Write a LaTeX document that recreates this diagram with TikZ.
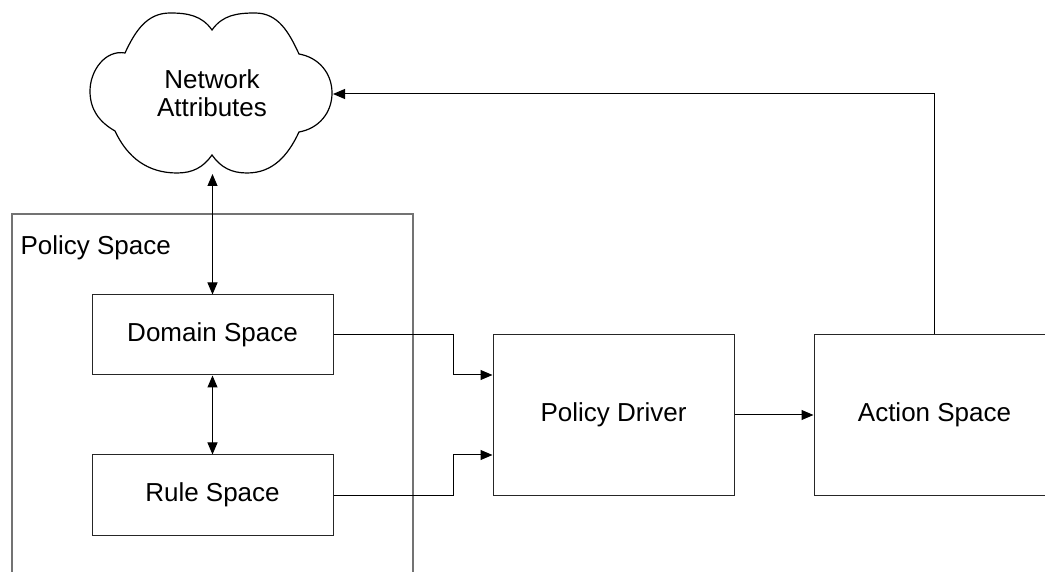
\documentclass[tikz,border=0pt]{standalone}
\usepackage{fontspec}
\setmainfont{Liberation Sans}
\usetikzlibrary{arrows.meta,calc}
\begin{document}
\begin{tikzpicture}[x=0.75pt,y=0.75pt,
  line width=0.75pt,
  every node/.style={font=\fontsize{19.5}{23}\selectfont},
  block/.style={draw=black!85, line width=0.75pt, minimum width=241*0.75pt, inner sep=0pt},
  arr/.style={draw=black, -{Triangle[length=9pt,width=7.5pt]}},
  biarr/.style={draw=black, {Triangle[length=9pt,width=7.5pt]}-{Triangle[length=9pt,width=7.5pt]}}]
\useasboundingbox (0,0) rectangle (1045,571);

% container, open at the bottom
\draw[draw=black!55, line width=1.1pt] (12,-5) -- (12,357) -- (413,357) -- (413,-5);
\node[anchor=west, inner sep=0pt] (ps) at (20,323) {Policy Space};

% cloud
\draw[draw=black, line width=0.9pt]
  (212,541) to[out=125,in=0] (170,558) to[out=180,in=65] (125,518)
  to[out=170,in=90] (90,480) to[out=270,in=150] (115,440)
  to[out=-65,in=180] (177,398) to[out=0,in=235] (212,416)
  to[out=-55,in=180] (247,398) to[out=0,in=245] (299,439)
  to[out=10,in=270] (332,478) to[out=90,in=-10] (299,517)
  to[out=115,in=0] (255,558) to[out=180,in=55] cycle;
\node[align=center, inner sep=0pt] (net) at (212,478) {Network\\[-2pt]Attributes};
\coordinate (cb) at (212.5,397);
\coordinate (cr) at (333,477);

% blocks
\node[block, minimum height=80*0.75pt] (dom) at (212.5,236) {Domain Space};
\node[block, minimum height=80*0.75pt] (rule) at (212.5,76) {Rule Space};
\node[block, minimum height=160*0.75pt] (drv) at (613.5,156) {Policy Driver};
\node[block, minimum height=160*0.75pt] (act) at (934.5,156) {Action Space};

\coordinate (din) at ($(drv.west)+(0,40)$);
\coordinate (rin) at ($(drv.west)+(0,-40)$);

% connectors
\draw[biarr] (cb) -- (dom.north);
\draw[biarr] (dom.south) -- (rule.north);
\draw[arr] (dom.east) -- ++(120,0) |- (din);
\draw[arr] (rule.east) -- ++(120,0) |- (rin);
\draw[arr] (drv.east) -- (act.west);
\draw[arr] (act.north) |- (cr);
\end{tikzpicture}
\end{document}
